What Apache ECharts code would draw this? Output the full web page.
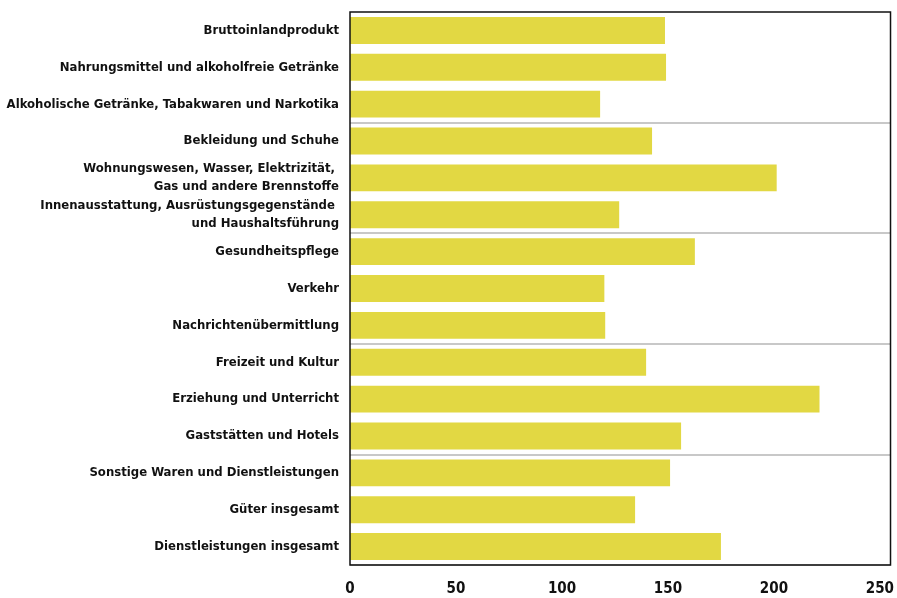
<!DOCTYPE html>
<html>
<head>
<meta charset="utf-8">
<script src="https://cdn.jsdelivr.net/npm/echarts@6/dist/echarts.min.js"></script>
<style>
    html, body { margin: 0; padding: 0; background: #fff; }
    #main { width: 897px; height: 598px; }
</style>
</head>
<body>
<div id="main"></div>
<script>
// Kategorien (von oben nach unten)
var categories = [
    'Bruttoinlandprodukt',
    'Nahrungsmittel und alkoholfreie Getränke',
    'Alkoholische Getränke, Tabakwaren und Narkotika',
    'Bekleidung und Schuhe',
    'Wohnungswesen, Wasser, Elektrizität, \nGas und andere Brennstoffe',
    'Innenausstattung, Ausrüstungsgegenstände \nund Haushaltsführung',
    'Gesundheitspflege',
    'Verkehr',
    'Nachrichtenübermittlung',
    'Freizeit und Kultur',
    'Erziehung und Unterricht',
    'Gaststätten und Hotels',
    'Sonstige Waren und Dienstleistungen',
    'Güter insgesamt',
    'Dienstleistungen insgesamt'
];
var values = [148.6, 149.1, 118, 142.5, 201.3, 127, 162.7, 120, 120.4, 139.7, 221.5, 156.2, 151, 134.5, 175];
var xTicks = [0, 50, 100, 150, 200, 250];

var chart = echarts.init(document.getElementById('main'));

var option = {
    animation: false,
    grid: {
        left: 350,
        right: 1,
        top: 12,
        bottom: 33,
        show: true,
        borderColor: '#111',
        borderWidth: 1.5,
        z: 5
    },
    xAxis: {
        type: 'value',
        min: 0,
        max: 255,
        interval: 50,
        axisLine: { show: false },
        axisTick: { show: false },
        splitLine: { show: false },
        axisLabel: {
            margin: 17,
            color: '#111',
            fontWeight: 'bold',
            fontSize: 15,
            fontFamily: 'DejaVu Sans Condensed',
            formatter: function (v) {
                return xTicks.indexOf(v) >= 0 ? String(v) : '';
            }
        }
    },
    yAxis: {
        type: 'category',
        inverse: true,
        data: categories,
        axisLine: { show: false },
        axisTick: { show: false },
        splitLine: {
            show: true,
            // nur Gruppenlinien nach jeweils drei Kategorien
            interval: function (i) {
                return i > 0 && i < categories.length && i % 3 === 0;
            },
            lineStyle: { color: '#c8c8c8', width: 2 }
        },
        axisLabel: {
            margin: 11,
            color: '#111',
            fontWeight: 'bold',
            fontSize: 13,
            lineHeight: 18,
            fontFamily: 'DejaVu Sans Condensed',
            align: 'right'
        }
    },
    series: [
        {
            type: 'bar',
            data: values,
            barCategoryGap: '27%',
            itemStyle: { color: '#e2d843' }
        }
    ]
};
chart.setOption(option);
</script>
</body>
</html>
